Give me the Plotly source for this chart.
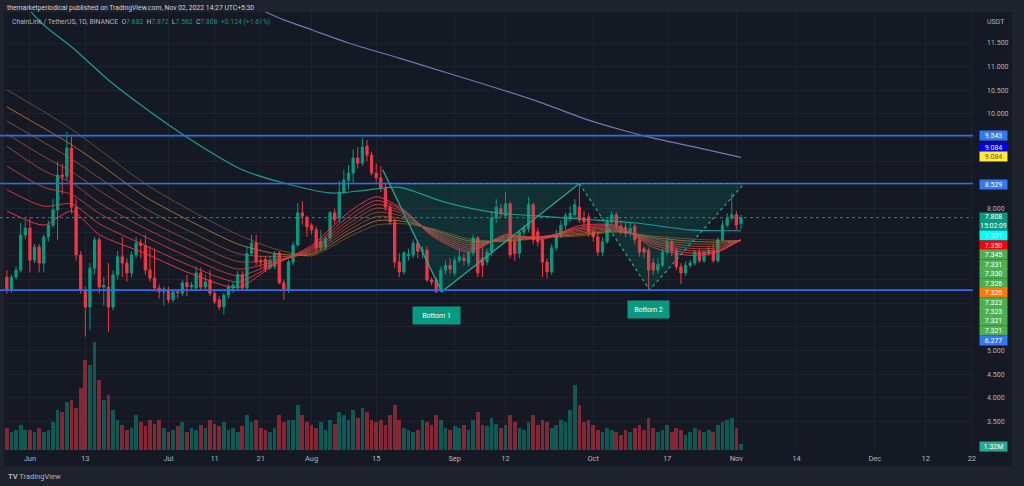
import pandas as pd
import plotly.graph_objects as go

# ---------------- data ----------------
dates = pd.date_range("2022-05-27", periods=160, freq="D")

opens = [6.55, 6.28, 6.55, 6.70, 7.44, 7.59, 6.91, 7.19, 6.85, 7.40,
         7.65, 7.97, 8.71, 8.68, 9.28, 8.03, 7.02, 6.28, 5.92, 6.74,
         7.34, 6.34, 6.34, 5.92, 6.60, 6.98, 6.85, 6.64, 7.02, 7.27,
         7.22, 6.70, 6.53, 6.32, 6.24, 6.28, 6.07, 6.24, 6.21, 6.43,
         6.35, 6.32, 6.64, 6.34, 6.49, 6.21, 6.07, 5.92, 6.17, 6.32,
         6.32, 6.60, 6.32, 7.05, 7.27, 6.90, 6.93, 6.75, 6.78, 7.06,
         6.43, 6.28, 6.87, 7.23, 7.91, 7.82, 7.65, 7.55, 7.17, 7.19,
         7.38, 7.91, 7.80, 8.35, 8.60, 8.75, 9.07, 8.96, 9.32, 9.13,
         8.75, 8.65, 8.44, 8.03, 7.72, 6.87, 6.66, 7.00, 7.02, 7.27,
         7.10, 7.12, 6.49, 6.49, 6.26, 6.70, 6.80, 6.64, 6.91, 6.95,
         6.85, 7.06, 7.38, 6.95, 6.88, 7.10, 7.80, 8.00, 7.85, 8.10,
         7.30, 7.05, 7.50, 7.58, 8.08, 7.51, 7.34, 6.87, 6.66, 7.17,
         7.44, 7.65, 7.80, 7.87, 8.03, 7.80, 7.82, 7.50, 7.40, 7.08,
         7.30, 7.72, 7.87, 7.63, 7.60, 7.48, 7.62, 7.34, 7.15, 7.12,
         6.85, 6.70, 6.80, 7.08, 7.30, 7.12, 6.77, 6.64, 6.80, 6.85,
         7.08, 6.90, 7.05, 7.12, 6.90, 7.34, 7.65, 7.80, 7.87, 7.683]
highs = [6.70, 6.60, 6.78, 7.70, 7.75, 7.80, 7.25, 7.25, 7.45, 7.75,
         8.20, 8.99, 8.95, 9.62, 9.52, 8.20, 7.10, 6.35, 6.85, 7.40,
         7.40, 6.55, 6.85, 6.70, 7.10, 7.40, 6.95, 7.10, 7.40, 7.35,
         7.45, 7.20, 7.15, 6.40, 6.35, 6.35, 6.28, 6.30, 6.50, 6.60,
         6.45, 6.78, 6.75, 6.60, 6.70, 6.30, 6.15, 6.22, 6.40, 6.45,
         6.68, 6.68, 7.20, 7.45, 7.45, 7.00, 7.00, 7.00, 7.10, 7.10,
         6.50, 6.92, 7.30, 8.12, 8.15, 7.85, 7.70, 7.62, 7.55, 7.40,
         7.95, 8.00, 8.58, 8.82, 8.92, 9.25, 9.30, 9.49, 9.45, 9.20,
         8.95, 8.90, 8.55, 8.10, 7.80, 7.05, 7.10, 7.15, 7.35, 7.32,
         7.20, 7.20, 6.55, 6.55, 6.78, 6.90, 6.95, 6.98, 7.15, 7.05,
         7.10, 7.45, 7.42, 7.30, 7.15, 7.95, 8.20, 8.10, 8.35, 8.15,
         7.40, 7.55, 7.65, 8.25, 8.12, 7.60, 7.40, 6.95, 7.25, 7.55,
         7.75, 7.92, 8.05, 8.20, 8.53, 7.95, 7.90, 7.60, 7.48, 7.40,
         7.80, 7.95, 7.92, 7.75, 7.70, 7.70, 7.68, 7.40, 7.20, 7.18,
         6.95, 6.95, 7.15, 7.38, 7.35, 7.18, 6.85, 6.88, 6.92, 7.12,
         7.15, 7.12, 7.20, 7.25, 7.40, 7.75, 7.90, 8.33, 7.95, 7.872]
lows = [6.20, 6.22, 6.50, 6.65, 7.35, 6.65, 6.85, 6.65, 6.65, 7.30,
        7.60, 7.34, 8.30, 8.60, 7.90, 6.90, 6.20, 5.29, 5.43, 6.60,
        6.20, 5.95, 5.39, 5.85, 6.50, 6.55, 6.45, 6.55, 6.95, 6.95,
        6.60, 6.45, 6.25, 6.10, 5.95, 6.00, 6.02, 6.10, 6.15, 6.15,
        6.28, 6.28, 6.28, 6.30, 6.15, 5.98, 5.85, 5.76, 6.10, 6.22,
        6.25, 6.28, 6.28, 7.00, 6.80, 6.75, 6.65, 6.70, 6.72, 6.40,
        6.07, 6.22, 6.80, 7.20, 7.66, 7.40, 7.45, 7.05, 7.10, 7.12,
        7.30, 7.68, 7.70, 8.30, 8.40, 8.55, 8.85, 8.90, 9.00, 8.70,
        8.55, 8.35, 7.95, 7.65, 6.75, 6.55, 6.60, 6.90, 6.95, 6.95,
        6.95, 6.45, 6.38, 6.22, 6.24, 6.60, 6.62, 6.58, 6.85, 6.80,
        6.78, 7.00, 6.55, 6.55, 6.80, 7.00, 7.70, 7.80, 7.80, 6.95,
        6.90, 6.95, 7.40, 7.50, 7.25, 7.20, 6.55, 6.52, 6.60, 7.10,
        7.38, 7.55, 7.72, 7.80, 7.70, 7.60, 7.40, 7.30, 7.00, 7.00,
        7.25, 7.65, 7.55, 7.45, 7.40, 7.40, 7.25, 6.98, 6.95, 6.28,
        6.60, 6.62, 6.75, 7.02, 7.00, 6.70, 6.40, 6.58, 6.75, 6.80,
        6.85, 6.85, 7.00, 6.85, 6.85, 7.30, 7.60, 7.75, 7.55, 7.562]
closes = [6.28, 6.55, 6.70, 7.44, 7.59, 6.91, 7.19, 6.85, 7.40, 7.65,
          7.97, 8.71, 8.68, 9.28, 8.03, 7.02, 6.28, 5.92, 6.74, 7.34,
          6.34, 6.38, 5.92, 6.60, 6.98, 6.85, 6.64, 7.02, 7.27, 7.22,
          6.70, 6.53, 6.32, 6.24, 6.30, 6.07, 6.24, 6.22, 6.43, 6.35,
          6.38, 6.64, 6.34, 6.45, 6.21, 6.03, 5.92, 6.17, 6.35, 6.38,
          6.60, 6.32, 7.05, 7.27, 6.87, 6.87, 6.72, 6.90, 7.04, 6.43,
          6.30, 6.87, 7.23, 7.91, 7.84, 7.61, 7.55, 7.17, 7.30, 7.36,
          7.91, 7.76, 8.35, 8.60, 8.75, 9.07, 8.96, 9.30, 9.13, 8.75,
          8.65, 8.44, 8.03, 7.72, 6.87, 6.66, 7.06, 7.04, 7.27, 7.10,
          7.12, 6.49, 6.45, 6.24, 6.70, 6.80, 6.72, 6.91, 6.98, 6.90,
          7.06, 7.38, 6.64, 6.80, 7.08, 7.80, 8.03, 7.90, 8.10, 7.02,
          7.05, 7.50, 7.58, 8.08, 7.34, 7.30, 6.87, 6.66, 7.17, 7.44,
          7.65, 7.85, 7.90, 8.08, 7.76, 7.72, 7.50, 7.40, 7.08, 7.30,
          7.72, 7.87, 7.63, 7.55, 7.48, 7.58, 7.34, 7.08, 7.08, 6.70,
          6.70, 6.82, 7.08, 7.30, 7.10, 6.77, 6.64, 6.80, 6.85, 7.08,
          6.90, 7.08, 7.12, 6.90, 7.34, 7.65, 7.80, 7.87, 7.65, 7.808]
volumes_m = [4.8, 4.0, 4.4, 5.5, 4.4, 4.4, 4.0, 4.8, 4.0, 4.4,
             6.2, 8.8, 8.4, 10.6, 11.0, 9.2, 13.6, 19.8, 18.7, 23.8,
             15.4, 11.0, 12.1, 8.8, 6.6, 5.5, 4.4, 4.8, 7.7, 6.2,
             5.3, 6.6, 5.7, 6.6, 4.8, 4.0, 4.4, 5.3, 6.2, 4.0,
             4.8, 4.4, 5.5, 4.8, 6.6, 5.7, 5.3, 6.2, 4.4, 4.8,
             4.0, 5.3, 7.7, 6.2, 6.6, 4.8, 4.4, 4.0, 4.8, 7.7,
             6.2, 6.6, 6.6, 9.9, 7.7, 6.2, 5.5, 4.8, 6.2, 4.4,
             6.6, 5.7, 8.4, 7.7, 6.6, 8.8, 7.0, 9.2, 8.4, 6.6,
             6.2, 6.6, 5.5, 7.7, 9.9, 6.6, 4.8, 4.4, 4.0, 4.4,
             6.6, 6.2, 5.5, 7.7, 6.6, 4.8, 4.4, 5.3, 4.8, 5.5,
             4.4, 6.6, 8.4, 5.5, 5.3, 7.0, 5.7, 4.8, 5.5, 7.7,
             6.2, 4.8, 4.4, 6.2, 7.7, 5.5, 6.6, 6.2, 4.8, 5.5,
             6.6, 6.2, 8.8, 14.3, 9.9, 6.2, 6.6, 5.5, 4.4, 4.0,
             4.8, 4.4, 4.0, 3.3, 4.4, 4.0, 4.8, 5.5, 4.4, 7.0,
             4.8, 4.0, 4.4, 5.5, 4.0, 4.8, 4.4, 3.3, 4.0, 4.8,
             4.4, 4.0, 4.4, 4.0, 5.5, 6.2, 6.6, 7.0, 4.8, 1.32]

# moving averages (day index from first candle, value)
ma_teal_idx = [3, 8, 14, 22, 30, 39, 51, 60, 70, 77, 85, 95, 106, 114, 124, 136, 148, 159]
ma_teal_val = [12.40, 11.88, 11.42, 10.72, 10.12, 9.51, 8.82, 8.54, 8.33, 8.38, 8.45, 8.13,
               7.91, 7.85, 7.78, 7.70, 7.55, 7.531]
ma_purple_idx = [52, 56, 60, 66, 74, 85, 96, 106, 116, 126, 134, 140, 150, 159]
ma_purple_val = [12.40, 12.16, 11.99, 11.78, 11.50, 11.18, 10.85, 10.55, 10.23, 9.87, 9.64,
                 9.49, 9.28, 9.084]

ribbon_idx = [0, 8, 14, 20, 30, 40, 50, 58, 66, 74, 80, 86, 92, 100, 108, 116, 124, 132, 140, 148, 154, 159]
ribbon_l1 = [10.51, 10.05, 9.68, 9.25, 8.52, 7.95, 7.45, 7.15, 7.00, 7.40, 7.65, 7.68, 7.58, 7.36, 7.30, 7.38, 7.42, 7.50, 7.42, 7.36, 7.33, 7.321]
ribbon_l2 = [10.15, 9.70, 9.35, 8.95, 8.25, 7.72, 7.25, 7.05, 7.03, 7.47, 7.74, 7.73, 7.56, 7.32, 7.32, 7.39, 7.45, 7.52, 7.39, 7.31, 7.29, 7.323]
ribbon_l3 = [9.85, 9.40, 9.05, 8.65, 8.00, 7.50, 7.05, 6.98, 7.06, 7.54, 7.83, 7.78, 7.54, 7.28, 7.34, 7.40, 7.48, 7.54, 7.36, 7.26, 7.25, 7.326]
ribbon_l4 = [9.58, 9.10, 8.78, 8.38, 7.78, 7.30, 6.88, 6.92, 7.09, 7.61, 7.92, 7.83, 7.52, 7.24, 7.36, 7.41, 7.51, 7.56, 7.33, 7.21, 7.21, 7.326]
ribbon_l5 = [9.32, 8.80, 8.55, 8.12, 7.58, 7.12, 6.72, 6.88, 7.12, 7.68, 8.01, 7.88, 7.50, 7.20, 7.38, 7.41, 7.54, 7.58, 7.30, 7.16, 7.17, 7.330]
ribbon_l6 = [8.90, 8.45, 8.30, 7.90, 7.40, 6.95, 6.58, 6.85, 7.15, 7.75, 8.09, 7.92, 7.48, 7.16, 7.40, 7.40, 7.57, 7.60, 7.27, 7.11, 7.13, 7.331]
ribbon_l7 = [8.40, 8.05, 8.10, 7.68, 7.22, 6.78, 6.45, 6.83, 7.18, 7.83, 8.17, 7.95, 7.46, 7.12, 7.42, 7.38, 7.60, 7.62, 7.23, 7.06, 7.10, 7.345]
ribbon_l8 = [7.95, 7.65, 7.95, 7.45, 7.05, 6.62, 6.33, 6.82, 7.22, 7.92, 8.25, 7.97, 7.43, 7.08, 7.45, 7.35, 7.64, 7.64, 7.18, 7.01, 7.08, 7.350]

# horizontal levels
level_prices = [9.543, 8.529, 6.277]
last_price = 7.808

# drawn pattern points (fractional day index, price)
pattern1_idx = [81.4, 94.2, 124.0]
pattern1_px = [8.82, 6.24, 8.529]
pattern2_idx = [124.0, 139.2, 159.7]
pattern2_px = [8.529, 6.28, 8.529]

# axis ticks
date_tick_vals = ["2022-06-01", "2022-06-13", "2022-07-01", "2022-07-11", "2022-07-21", "2022-08-01",
                  "2022-08-15", "2022-09-01", "2022-09-12", "2022-10-01", "2022-10-17", "2022-11-01",
                  "2022-11-14", "2022-12-01", "2022-12-12", "2022-12-22"]
date_tick_text = ["Jun", "13", "Jul", "11", "21", "Aug", "15", "Sep", "12", "Oct", "17", "Nov",
                  "14", "Dec", "12", "22"]
price_ticks = [3.5, 4.0, 4.5, 5.0, 5.5, 6.0, 6.5, 7.0, 7.5, 8.0, 8.5, 9.0, 9.5, 10.0, 10.5, 11.0, 11.5]
price_tick_text = ["3.500", "4.000", "4.500", "5.000", "", "", "", "", "", "8.000", "", "", "",
                   "10.000", "10.500", "11.000", "11.500"]

axis_label_text = ["9.543", "9.084", "9.084", "8.529", "7.808<br>15:02:09", "7.531", "7.350",
                   "7.345", "7.331", "7.330", "7.326", "7.326", "7.323", "7.323", "7.321", "7.321",
                   "6.277", "1.32M"]
axis_label_bg = ["#3179f5", "#0000ff", "#ffeb3b", "#3179f5", "#089981", "#00ffff", "#ff0000",
                 "#4caf50", "#4caf50", "#4caf50", "#4caf50", "#ff7a00", "#4caf50", "#4caf50",
                 "#4caf50", "#4caf50", "#3179f5", "#22ab94"]
axis_label_fg = ["#ffffff", "#ffffff", "#6b6420", "#ffffff", "#ffffff", "#ffffff", "#ffffff",
                 "#ffffff", "#ffffff", "#ffffff", "#ffffff", "#ffffff", "#ffffff", "#ffffff",
                 "#ffffff", "#ffffff", "#ffffff", "#ffffff"]
axis_label_ypx = [135, 147.5, 157, 184, 221.5, 235, 245, 254.5, 264, 273.5, 283, 292.5, 302,
                  311.5, 321, 330.5, 340, 446]

# ---------------- styling ----------------
CHART_BG = "#151924"
FRAME_BG = "#1e222d"
GRID = "#1f2330"
AXIS_TXT = "#b2b5be"
UP = "#089981"
DOWN = "#f23645"
FONT = "Roboto, Lato, Arial, sans-serif"
PLOT_W, PLOT_TOP, PLOT_BOT = 973.0, 12.0, 450.0


def X(px):
    return px / PLOT_W


def Y(py):
    return (PLOT_BOT - py) / (PLOT_BOT - PLOT_TOP)


def day(i):
    return dates[0] + pd.Timedelta(days=i)


fig = go.Figure()

# volume
vol_colors = ["rgba(8,153,129,0.5)" if c >= o else "rgba(242,54,69,0.5)" for o, c in zip(opens, closes)]
fig.add_trace(go.Bar(x=dates, y=volumes_m, marker=dict(color=vol_colors, line=dict(width=0)),
                     width=86400000 * 0.8, yaxis="y2", hoverinfo="skip"))

# candles
fig.add_trace(go.Candlestick(
    x=dates, open=opens, high=highs, low=lows, close=closes,
    increasing=dict(line=dict(color=UP, width=1), fillcolor=UP),
    decreasing=dict(line=dict(color=DOWN, width=1), fillcolor=DOWN),
    whiskerwidth=0, hoverinfo="skip"))

# ribbon
ribbons = [ribbon_l1, ribbon_l2, ribbon_l3, ribbon_l4, ribbon_l5, ribbon_l6, ribbon_l7, ribbon_l8]
ribbon_colors = ["rgba(165,120,60,0.55)", "rgba(205,115,40,0.85)", "rgba(180,95,60,0.7)",
                 "rgba(190,82,60,0.75)", "rgba(202,74,62,0.8)", "rgba(214,66,64,0.85)",
                 "rgba(228,58,66,0.9)", "rgba(242,54,69,0.95)"]
for vals, col in zip(ribbons, ribbon_colors):
    fig.add_trace(go.Scatter(x=[dates[i] for i in ribbon_idx], y=vals, mode="lines",
                             line=dict(color=col, width=1, shape="spline", smoothing=0.7),
                             hoverinfo="skip"))

fig.add_trace(go.Scatter(x=[dates[i] for i in ma_teal_idx], y=ma_teal_val, mode="lines",
                         line=dict(color="#1a9c96", width=1.2, shape="spline", smoothing=0.8),
                         hoverinfo="skip"))
fig.add_trace(go.Scatter(x=[dates[i] for i in ma_purple_idx], y=ma_purple_val, mode="lines",
                         line=dict(color="#7d73b8", width=1.2, shape="spline", smoothing=0.8),
                         hoverinfo="skip"))

# pattern 1 (solid) with fill
t = (pattern1_px[0] - pattern1_px[2]) / (pattern1_px[0] - pattern1_px[1])
a_idx = pattern1_idx[0] + t * (pattern1_idx[1] - pattern1_idx[0])
fill_col = "rgba(8,153,129,0.18)"
fig.add_trace(go.Scatter(x=[day(a_idx), day(pattern1_idx[1]), day(pattern1_idx[2]), day(a_idx)],
                         y=[pattern1_px[2], pattern1_px[1], pattern1_px[2], pattern1_px[2]],
                         mode="lines", fill="toself", fillcolor=fill_col, line=dict(width=0),
                         hoverinfo="skip"))
fig.add_trace(go.Scatter(x=[day(pattern2_idx[0]), day(pattern2_idx[1]), day(pattern2_idx[2]), day(pattern2_idx[0])],
                         y=[pattern2_px[0], pattern2_px[1], pattern2_px[2], pattern2_px[0]],
                         mode="lines", fill="toself", fillcolor=fill_col, line=dict(width=0),
                         hoverinfo="skip"))
fig.add_trace(go.Scatter(x=[day(i) for i in pattern1_idx], y=pattern1_px, mode="lines",
                         line=dict(color="#22ab94", width=1.3), hoverinfo="skip"))
fig.add_trace(go.Scatter(x=[day(i) for i in pattern2_idx], y=pattern2_px, mode="lines",
                         line=dict(color="#22ab94", width=1.2, dash="dot"), hoverinfo="skip"))

shapes = []
# frame strips
shapes.append(dict(type="rect", xref="paper", yref="paper", x0=X(0), x1=X(1024), y0=Y(12), y1=Y(0),
                   fillcolor=FRAME_BG, line=dict(width=0), layer="below"))
shapes.append(dict(type="rect", xref="paper", yref="paper", x0=X(0), x1=X(1024), y0=Y(486), y1=Y(466),
                   fillcolor=FRAME_BG, line=dict(width=0), layer="below"))
shapes.append(dict(type="rect", xref="paper", yref="paper", x0=X(1012), x1=X(1024), y0=Y(486), y1=Y(0),
                   fillcolor=FRAME_BG, line=dict(width=0), layer="below"))
shapes.append(dict(type="rect", xref="paper", yref="paper", x0=X(0), x1=X(4), y0=Y(486), y1=Y(0),
                   fillcolor=FRAME_BG, line=dict(width=0), layer="above"))
for lp in level_prices:
    shapes.append(dict(type="line", xref="paper", yref="y", x0=0, x1=1, y0=lp, y1=lp,
                       line=dict(color="#2f6ee6", width=1.6)))
shapes.append(dict(type="line", xref="paper", yref="y", x0=0, x1=1, y0=last_price, y1=last_price,
                   line=dict(color="#089981", width=1, dash="dot")))
shapes.append(dict(type="line", xref="x", yref="y", x0=day(a_idx), x1=day(pattern2_idx[2]),
                   y0=pattern1_px[2], y1=pattern1_px[2],
                   line=dict(color="#22ab94", width=1, dash="dot")))

annotations = []
for txt, bg, fg, ypx in zip(axis_label_text, axis_label_bg, axis_label_fg, axis_label_ypx):
    two = "<br>" in txt
    annotations.append(dict(xref="paper", yref="paper", x=X(993.5), y=Y(ypx), text=txt,
                            showarrow=False, bgcolor=bg, font=dict(size=7, color=fg, family=FONT),
                            width=26, height=16 if two else 8, borderpad=0.5,
                            xanchor="center", yanchor="middle", align="center"))
annotations.append(dict(xref="paper", yref="paper", x=X(985), y=Y(22), text="USDT", showarrow=False,
                        font=dict(size=7, color=AXIS_TXT, family=FONT), xanchor="left", yanchor="middle"))

hdr1 = "themarketperiodical published on TradingView.com, Nov 02, 2022 14:27 UTC+5:30"
annotations.append(dict(xref="paper", yref="paper", x=X(5), y=Y(7.5), text=hdr1, showarrow=False,
                        font=dict(size=6.8, color="#d1d4dc", family=FONT), xanchor="left", yanchor="middle"))
sp = "\u00a0"
val = lambda v: f"<span style='color:{UP}'>{v:.3f}</span>"
hdr2 = ("ChainLink / TetherUS, 1D, BINANCE" + sp * 2 + "O" + val(opens[-1]) + sp * 2 + "H" + val(highs[-1])
        + sp * 2 + "L" + val(lows[-1]) + sp * 2 + "C" + val(closes[-1]) + sp * 2
        + f"<span style='color:{UP}'>+0.124 (+1.61%)</span>")
annotations.append(dict(xref="paper", yref="paper", x=X(10), y=Y(22), text=hdr2, showarrow=False,
                        font=dict(size=6.8, color=AXIS_TXT, family=FONT), xanchor="left", yanchor="middle"))
annotations.append(dict(xref="paper", yref="paper", x=X(6), y=Y(476), text="<b>TV</b> TradingView",
                        showarrow=False, font=dict(size=7.5, color=AXIS_TXT, family=FONT),
                        xanchor="left", yanchor="middle"))

annotations.append(dict(xref="x", yref="y", x=day(93.1), y=5.75, text="Bottom 1", showarrow=False,
                        bgcolor="#089981", font=dict(size=7, color="#ffffff", family=FONT),
                        width=44, height=14, borderpad=1.5, xanchor="center", yanchor="middle"))
annotations.append(dict(xref="x", yref="y", x=day(139.0), y=5.86, text="Bottom 2", showarrow=False,
                        bgcolor="#089981", font=dict(size=7, color="#ffffff", family=FONT),
                        width=38, height=14, borderpad=1.5, xanchor="center", yanchor="middle"))

fig.update_layout(
    width=1024, height=486,
    margin=dict(l=0, r=51, t=12, b=36),
    paper_bgcolor=CHART_BG, plot_bgcolor=CHART_BG,
    showlegend=False, hovermode=False, bargap=0,
    font=dict(family=FONT, color=AXIS_TXT),
    shapes=shapes, annotations=annotations,
    xaxis=dict(type="date", range=["2022-05-25 12:30", "2022-12-22 06:00"],
               tickvals=date_tick_vals, ticktext=date_tick_text,
               showgrid=True, gridcolor=GRID, gridwidth=1, zeroline=False, showline=False,
               ticks="", ticklabelstandoff=2, tickfont=dict(size=7.5, color=AXIS_TXT, family=FONT),
               rangeslider=dict(visible=False), fixedrange=True),
    yaxis=dict(side="right", range=[2.896, 12.156], tickvals=price_ticks, ticktext=price_tick_text,
               showgrid=True, gridcolor=GRID, gridwidth=1, zeroline=False, showline=False,
               ticks="", ticklabelstandoff=13, tickfont=dict(size=7, color=AXIS_TXT, family=FONT),
               fixedrange=True),
    yaxis2=dict(overlaying="y", range=[0, 96.36], visible=False, fixedrange=True),
)

fig.write_html("out.html")
